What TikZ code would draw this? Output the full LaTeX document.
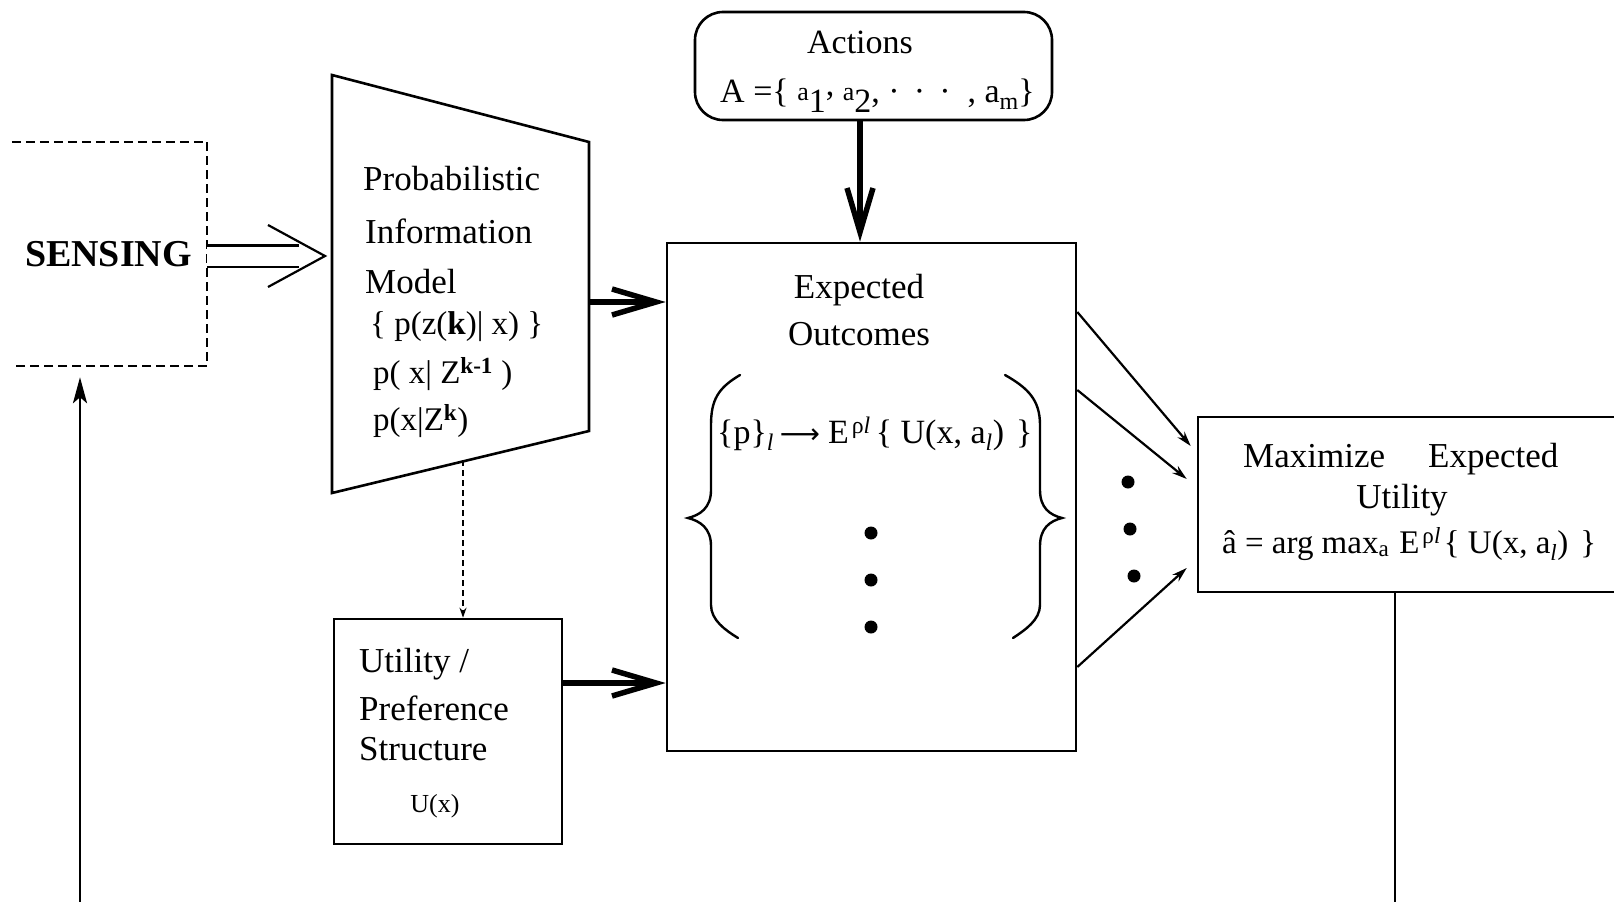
\documentclass[tikz,border=0pt]{standalone}
\usepackage{fontspec}
\setmainfont{Liberation Serif}
\newfontfamily\symfont{DejaVu Sans}
\usetikzlibrary{arrows.meta,calc}

\begin{document}
\begin{tikzpicture}[x=1pt,y=-1pt,
  box/.style={draw, line width=2.6pt, inner sep=0pt},
  lbl/.style={inner sep=0pt, font=\fontsize{35}{40}\selectfont},
  frm/.style={inner sep=0pt, font=\fontsize{34}{38}\selectfont},
  bigarrow/.style={line width=5.5pt, -{Straight Barb[length=44pt,width=26pt]}},
  thinarrow/.style={line width=2.2pt, -{Stealth[length=15pt,width=9pt]}},
  dasharrow/.style={line width=2.2pt, dash pattern=on 6pt off 4pt, -{Stealth[length=10pt,width=7pt]}},
  feedback/.style={line width=2.8pt, -{Stealth[length=26pt,width=14pt,inset=6pt]}},
  bracepath/.style={line width=2.4pt, line cap=round}]

\useasboundingbox (0,0) rectangle (1614,902);
\fill[white] (0,0) rectangle (1614,902);
\clip (0,0) rectangle (1614,902);

% ---- sensing block (open on the left) ----
\node[inner sep=0pt, minimum width=197pt, minimum height=224pt,
      font=\fontsize{38}{42}\selectfont\bfseries] (sens) at (108.5,254) {SENSING};
\draw[line width=2.5pt, dash pattern=on 9pt off 5pt]
  ([xshift=2pt]sens.north west) -- (sens.north east) -- (sens.south east) -- ([xshift=2pt]sens.south west);

% ---- probabilistic information model (trapezoid) ----
\coordinate (pim-nw) at (332,75);
\coordinate (pim-ne) at (589,142);
\coordinate (pim-se) at (589,431);
\coordinate (pim-sw) at (332,493);
\draw[line width=2.6pt] (pim-nw) -- (pim-ne) -- (pim-se) -- (pim-sw) -- cycle;
\node[lbl, anchor=base west] (pim-t1) at (363,190) {Probabilistic};
\node[lbl, anchor=base west] (pim-t2) at (365,243) {Information};
\node[lbl, anchor=base west] (pim-t3) at (365,293) {Model};
\node[lbl, anchor=base west, font=\fontsize{33}{38}\selectfont] (pim-f1) at (370,334)
  {\{ p(z(\textbf{k})| x) \}};
\node[lbl, anchor=base west, font=\fontsize{33}{38}\selectfont] (pim-f2) at (373,383)
  {p( x| Z\textsuperscript{\textbf{k-1}} )};
\node[lbl, anchor=base west, font=\fontsize{33}{38}\selectfont] (pim-f3) at (373,430)
  {p(x|Z\textsuperscript{\textbf{k}})};
\coordinate (pim-r) at (589,302);
\coordinate (pim-b) at (463,460);

% ---- actions ----
\node[box, rounded corners=28pt, minimum width=357pt, minimum height=108pt] (act) at (873.5,66) {};
\node[lbl, anchor=base, font=\fontsize{34}{40}\selectfont] (act-t) at (860,53) {Actions};
\node[lbl, anchor=base west, font=\fontsize{34}{40}\selectfont] (act-f) at (720,102)
  {A =\{ \raisebox{2pt}{\fontsize{26}{26}\selectfont a}\raisebox{-10pt}{1}\raisebox{7pt}{,}
   \raisebox{2pt}{\fontsize{26}{26}\selectfont a}\raisebox{-10pt}{2}, · \,· \,· \ , a\raisebox{-7pt}{\fontsize{24}{24}\selectfont m}\}};

% ---- expected outcomes ----
\node[box, minimum width=409pt, minimum height=508pt] (exp) at (871.5,497) {};
\node[lbl, anchor=base] (exp-t1) at (859,298) {Expected};
\node[lbl, anchor=base] (exp-t2) at (859,345) {Outcomes};
\node[frm, anchor=base west] (exp-f) at (717,443)
  {\{p\}\textsubscript{\textit{l}}\hspace{6pt}{\symfont\fontsize{28}{28}\selectfont ⟶}\hspace{8pt}E\hspace{3pt}\textsuperscript{ρ\textit{l}}\hspace{5pt}\{ U(x, a\textsubscript{\textit{l}})\hspace{12pt}\}};
\draw[bracepath] (740,375) .. controls (718,388) and (711,400) .. (711,425)
  -- (711,490) .. controls (711,508) and (700,515) .. (688,518)
  .. controls (700,521) and (711,528) .. (711,546)
  -- (711,605) .. controls (711,620) and (725,630) .. (738,638);
\draw[bracepath] (1005,375) .. controls (1028,388) and (1040,400) .. (1040,425)
  -- (1040,490) .. controls (1040,508) and (1050,515) .. (1062,518)
  .. controls (1050,521) and (1040,528) .. (1040,546)
  -- (1040,605) .. controls (1040,620) and (1025,630) .. (1013,638);
\foreach \y in {533,580,627} \fill (871,\y) circle (6.5pt);

% ---- utility / preference structure ----
\node[box, minimum width=228pt, minimum height=225pt] (util) at (448,731.5) {};
\node[lbl, anchor=base west] (util-t1) at (359,672) {Utility /};
\node[lbl, anchor=base west] (util-t2) at (359,720) {Preference};
\node[lbl, anchor=base west] (util-t3) at (359,760) {Structure};
\node[lbl, anchor=base, font=\fontsize{26}{30}\selectfont] (util-f) at (435,812) {U(x)};
\coordinate (u-out) at ([yshift=48.5pt]util.east);

% ---- maximize expected utility (runs past the right edge) ----
\node[box, minimum width=432pt, minimum height=175pt] (max) at (1414,504.5) {};
\node[lbl, anchor=base west] (max-t1) at (1243,467) {Maximize};
\node[lbl, anchor=base west] (max-t2) at (1428,467) {Expected};
\node[lbl, anchor=base] (max-t3) at (1402,508) {Utility};
\node[frm, anchor=base west, font=\fontsize{33}{38}\selectfont] (max-f) at (1222,553)
  {â = arg max\textsubscript{a}\hspace{10pt}E\hspace{3pt}\textsuperscript{ρ\textit{l}}\hspace{3pt}\{ U(x, a\textsubscript{\textit{l}})\hspace{12pt}\}};
\foreach \x/\y in {1128/482,1130/529,1134/576} \fill (\x,\y) circle (6.5pt);

% ---- connectors ----
\coordinate (d-tip) at (325,256);
\draw[line width=2.2pt, double distance=19pt] (sens.east |- d-tip) -- ([xshift=-26pt]d-tip);
\draw[line width=2.2pt] ([shift={(-57,-31)}]d-tip) -- (d-tip) -- ([shift={(-57,31)}]d-tip);

\draw[bigarrow] ([xshift=-13.5pt]act.south) -- ([xshift=-11.5pt]exp.north);
\draw[bigarrow] (pim-r) -- (pim-r -| exp.west);
\draw[bigarrow] (u-out) -- (u-out -| exp.west);
\draw[dasharrow] (pim-b) -- (pim-b |- util.north);

\draw[thinarrow] ([yshift=185pt]exp.east) -- ([xshift=-6pt,yshift=58.5pt]max.west);
\draw[thinarrow] ([yshift=107pt]exp.east) -- ([xshift=-10pt,yshift=25.5pt]max.west);
\draw[thinarrow] ([yshift=-170pt]exp.east) -- ([xshift=-10pt,yshift=-63.5pt]max.west);

\coordinate (loopR) at (1395,912);
\coordinate (loopL) at (80,912);
\draw[feedback] ([xshift=-19pt]max.south) -- (loopR) -- (loopL)
  -- ([xshift=-28.5pt,yshift=-11pt]sens.south);

\end{tikzpicture}
\end{document}
